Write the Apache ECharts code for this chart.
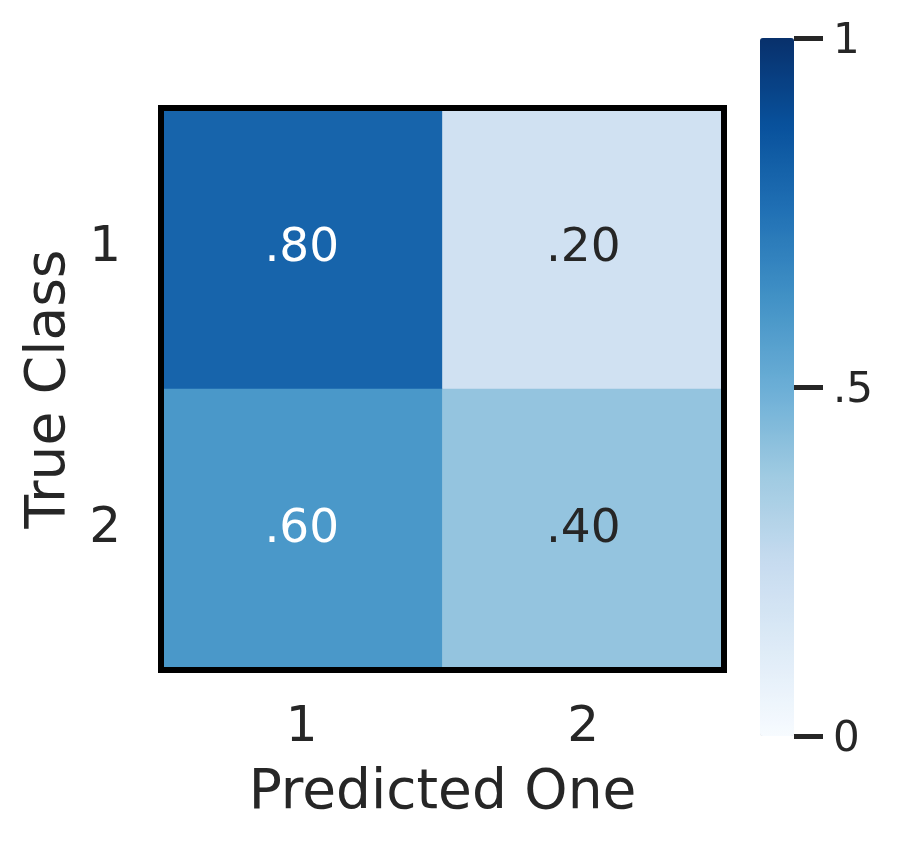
<!DOCTYPE html>
<html>
<head>
<meta charset="utf-8">
<script src="https://cdn.jsdelivr.net/npm/echarts@6/dist/echarts.min.js"></script>
<style>
  html, body { margin: 0; padding: 0; background: #ffffff; }
  #chart { width: 898px; height: 848px; }
</style>
</head>
<body>
<div id="chart"></div>
<script>
// 数据
const xCategories = ['1', '2']
const yCategories = ['1', '2']
const row1Values = [0.80, 0.20]
const row2Values = [0.60, 0.40]
const colorbarTicks = [0, 0.5, 1]

const textColor = '#262626'
const fontFamily = 'DejaVu Sans'
// matplotlib Blues
const blues = ['#f7fbff', '#deebf7', '#c6dbef', '#9ecae1', '#6baed6', '#4292c6', '#2171b5', '#08519c', '#08306b']

// 单元格标注：去掉前导 0
function cellFmt(v) {
  return v.toFixed(2).replace(/^0/, '')
}
// 色条刻度
function barFmt(v) {
  let s = String(v).replace(/^0(?=\.)/, '')
  return '{t|' + s + '}'
}

const rows = [row1Values, row2Values]
const heatData = []
rows.forEach((row, yi) => {
  row.forEach((v, xi) => {
    heatData.push({
      value: [xi, yi, v],
      label: { color: v > 0.5 ? '#ffffff' : textColor }
    })
  })
})

const chart = echarts.init(document.getElementById('chart'))
const option = {
  backgroundColor: '#ffffff',
  textStyle: { fontFamily: fontFamily },
  grid: [
    {
      left: 161, top: 108, width: 563, height: 562,
      containLabel: false, outerBoundsMode: 'none',
      show: true, borderWidth: 6, borderColor: '#000000', backgroundColor: 'transparent',
      z: 10
    },
    {
      left: 760, top: 38, width: 34, height: 698,
      containLabel: false, outerBoundsMode: 'none', z: 10
    }
  ],
  xAxis: [
    {
      type: 'category',
      gridIndex: 0,
      data: xCategories,
      axisLine: { show: false },
      axisTick: { show: false },
      axisLabel: { fontSize: 50, color: textColor, margin: 33 },
      name: 'Predicted One',
      nameLocation: 'middle',
      nameGap: 96,
      nameTextStyle: { fontSize: 55, color: textColor }
    },
    { type: 'value', gridIndex: 1, show: false, min: 0, max: 1 }
  ],
  yAxis: [
    {
      type: 'category',
      gridIndex: 0,
      inverse: true,
      data: yCategories,
      axisLine: { show: false },
      axisTick: { show: false },
      axisLabel: { fontSize: 50, color: textColor, margin: 40 },
      name: 'True Class',
      nameLocation: 'middle',
      nameGap: 84,
      nameTextStyle: { fontSize: 55, color: textColor }
    },
    {
      type: 'value',
      gridIndex: 1,
      position: 'right',
      z: 20,
      min: colorbarTicks[0],
      max: colorbarTicks[colorbarTicks.length - 1],
      interval: 0.5,
      splitLine: { show: false },
      axisLine: { show: false, onZero: false },
      axisTick: { show: true, inside: false, length: 29, lineStyle: { width: 5, color: textColor } },
      axisLabel: {
        color: textColor, margin: 39, formatter: barFmt,
        rich: { t: { fontSize: 42, color: textColor, fontFamily: fontFamily, padding: [9, 0, 0, 0] } }
      }
    }
  ],
  visualMap: {
    type: 'continuous',
    min: 0,
    max: 1,
    calculable: false,
    orient: 'vertical',
    left: 760,
    top: 38,
    padding: 0,
    itemWidth: 34,
    itemHeight: 698,
    seriesIndex: 0,
    inRange: { color: blues },
    textStyle: { color: 'transparent' }
  },
  series: [
    {
      type: 'heatmap',
      xAxisIndex: 0,
      yAxisIndex: 0,
      data: heatData,
      label: {
        show: true,
        fontSize: 47,
        fontFamily: fontFamily,
        formatter: p => cellFmt(p.value[2])
      },
      emphasis: { disabled: true }
    }
  ]
}
chart.setOption(option)
</script>
</body>
</html>
